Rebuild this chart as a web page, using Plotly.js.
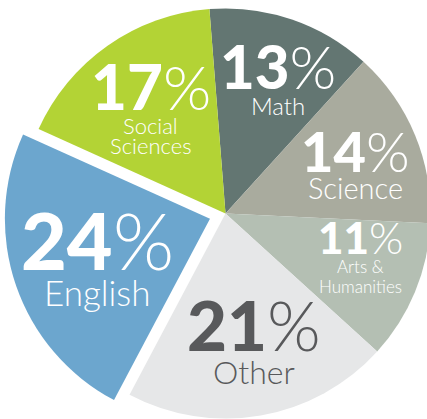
<!DOCTYPE html>
<html><head><meta charset="utf-8">
<script src="https://cdn.plot.ly/plotly-3.0.1.min.js"></script>
<style>html,body{margin:0;padding:0;width:427px;height:419px;overflow:hidden;background:#fff}
#chart{position:absolute;left:3.5px;top:-8.5px;width:443px;height:443px}</style>
</head><body><div id="chart"></div>
<script>
// ---- data ----
const categories = ["Math", "Science", "Arts & Humanities", "Other", "English", "Social Sciences"];
const shares = [13, 14, 11, 21, 24, 17];
const labelLines = [["Math"], ["Science"], ["Arts &", "Humanities"], ["Other"], ["English"], ["Social", "Sciences"]];

// ---- style ----
const colors = ["#637672", "#a9ab9e", "#b4bfb3", "#e6e7e8", "#6ca6ce", "#b3d335"];
const pulls = [0, 0, 0, 0, 0.08, 0];
const textColors = ["#ffffff", "#ffffff", "#ffffff", "#58595b", "#ffffff", "#ffffff"];
const numSize = [60, 56, 44, 69, 79, 62];
const labSize = [24, 29, 17, 32, 35, 22];
const lineSp = [0, 0, 20, 0, 0, 20];
const gapPx = [8, 6, 6, 10, 10, 8];
const textR = [0.697, 0.676, 0.693, 0.647, 0.585, 0.624];
const angleAdj = [2.5, 2.2, -4.4, -2.7, -0.8, -0.7];
const ROT = -4.5;
const D = 443;
const FONT = "Lato";

const total = shares.reduce((a, b) => a + b, 0);
const maxPull = Math.max(...pulls);
const R = D / 2 / (1 + maxPull);
const annotations = [];
let cum = 0;
shares.forEach((v, i) => {
  const start = ROT + cum / total * 360;
  const mid = start + v / total * 180;
  cum += v;
  const m = mid * Math.PI / 180;
  const a = (mid + angleAdj[i]) * Math.PI / 180;
  const cx = pulls[i] * R * Math.sin(m) + textR[i] * R * Math.sin(a);
  const cy = -pulls[i] * R * Math.cos(m) - textR[i] * R * Math.cos(a);
  const nS = numSize[i], lS = labSize[i], lines = labelLines[i];
  const H = 0.72 * nS + gapPx[i] + 0.72 * lS + (lines.length - 1) * lineSp[i];
  const top = cy - H / 2;
  const place = (capCenter, S) => 0.5 - (capCenter - 0.027 * S) / D;
  annotations.push({
    xref: "paper", yref: "paper", x: 0.5 + cx / D, y: place(top + 0.36 * nS, nS),
    xanchor: "center", yanchor: "middle", showarrow: false,
    text: '<span style="font-weight:900">' + v + '</span>%',
    font: {family: FONT, size: nS, color: textColors[i], weight: 300}
  });
  lines.forEach((ln, j) => {
    const c = top + 0.72 * nS + gapPx[i] + 0.36 * lS + j * lineSp[i];
    annotations.push({
      xref: "paper", yref: "paper", x: 0.5 + cx / D, y: place(c, lS),
      xanchor: "center", yanchor: "middle", showarrow: false,
      text: ln,
      font: {family: FONT, size: lS, color: textColors[i], weight: 300}
    });
  });
});

Plotly.newPlot("chart", [{
  type: "pie",
  labels: categories,
  values: shares,
  sort: false,
  direction: "clockwise",
  rotation: ROT,
  pull: pulls,
  marker: {colors: colors, line: {width: 0}},
  textinfo: "none",
  hoverinfo: "none",
  domain: {x: [0, 1], y: [0, 1]}
}], {
  width: D, height: D,
  margin: {l: 0, r: 0, t: 0, b: 0},
  showlegend: false,
  paper_bgcolor: "#ffffff",
  annotations: annotations
}, {staticPlot: true, displayModeBar: false});
</script>
</body></html>
